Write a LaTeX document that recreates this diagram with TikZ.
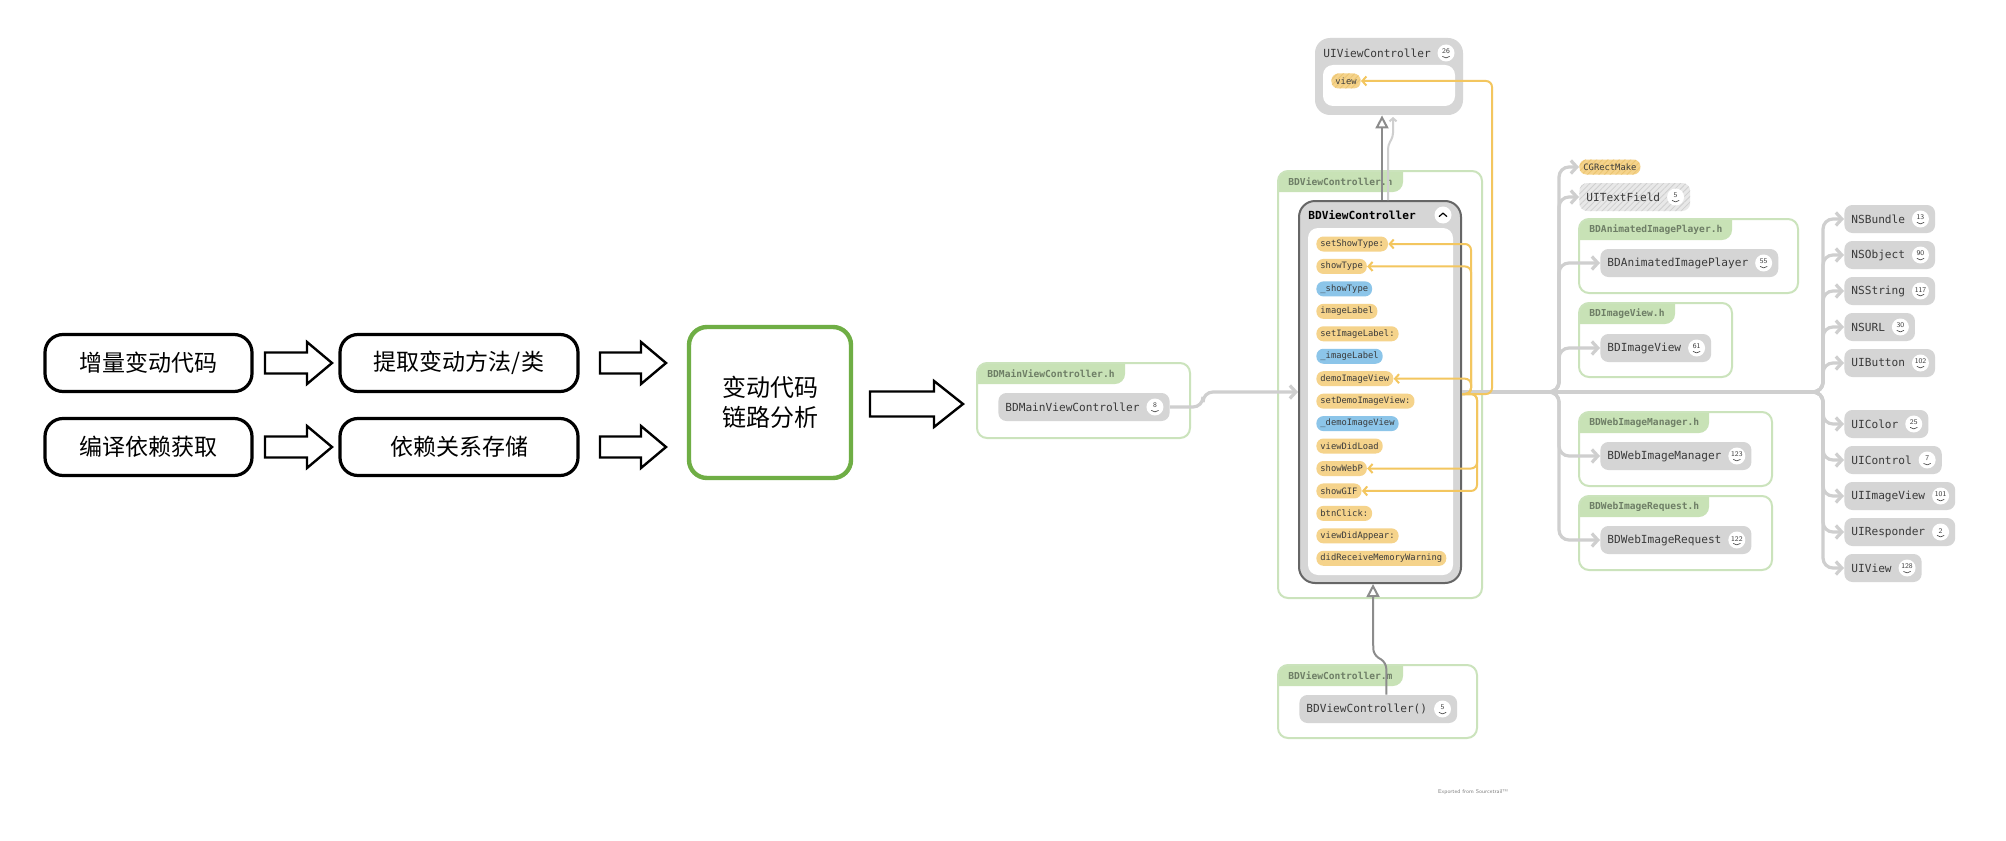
\documentclass[tikz,border=0pt]{standalone}
\usepackage{fontspec}
\newfontfamily\cjk{Noto Sans CJK SC}
\newfontfamily\mono{DejaVu Sans Mono}
\usetikzlibrary{arrows.meta,fit,patterns.meta,calc}
\definecolor{pillgray}{HTML}{D5D5D5}
\definecolor{boxgray}{HTML}{D6D6D6}
\definecolor{txtdark}{HTML}{3A3A3A}
\definecolor{grpline}{HTML}{CBE3BC}
\definecolor{tabgreen}{HTML}{C8E2B6}
\definecolor{tabtext}{HTML}{6E7E66}
\definecolor{memyellow}{HTML}{F5D38B}
\definecolor{memblue}{HTML}{8CC5E9}
\definecolor{hatchyellow}{HTML}{EBC470}
\definecolor{hatchgray}{HTML}{CFCFCF}
\definecolor{lightgray2}{HTML}{E8E8E8}
\definecolor{yline}{HTML}{F3C65F}
\definecolor{gline}{HTML}{CFCFCF}
\definecolor{inhline}{HTML}{8C8C8C}
\definecolor{okgreen}{HTML}{6FAE45}
\definecolor{borderdark}{HTML}{666666}
\tikzset{
 flowbox/.style={draw=black, line width=1.6pt, rounded corners=9pt, fill=white, minimum height=28.5pt, font=\cjk\fontsize{11.5}{14}\selectfont},
 greenbox/.style={draw=okgreen, line width=2.2pt, rounded corners=9pt, minimum width=81pt, minimum height=75.5pt, align=center, font=\cjk\fontsize{12}{15}\selectfont},
 blockarrow/.style={draw=black, line width=1.2pt, fill=white, line join=miter},
 grpframe/.style={draw=grpline, line width=1pt, rounded corners=5pt, inner sep=0pt},
 tablabel/.style={anchor=west, font=\mono\bfseries\fontsize{4.8}{5}\selectfont, text=tabtext, inner sep=0pt},
 cls/.style={anchor=west, fill=pillgray, rounded corners=4pt, minimum height=14pt, inner xsep=3.5pt, inner ysep=0pt, font=\mono\fontsize{5.57}{6}\selectfont, text=txtdark},
 mem/.style={anchor=west, rounded corners=3.5pt, minimum height=7.5pt, inner xsep=2pt, inner ysep=0pt, font=\mono\fontsize{4.4}{5}\selectfont, text=txtdark},
 badgec/.style={circle, fill=white, minimum size=8.5pt, inner sep=0pt},
 gconn/.style={draw=gline, line width=1.6pt, rounded corners=5pt, -{Straight Barb[length=3pt,width=6.5pt]}},
 yconn/.style={draw=yline, line width=1pt, rounded corners=3pt, -{Straight Barb[length=2pt,width=4.5pt]}},
 inh/.style={draw=inhline, line width=1pt, rounded corners=3pt, -{Triangle[open,length=6.5pt,width=6.5pt]}},
 yhatch/.style={fill=memyellow, postaction={pattern={Lines[angle=45,distance=2pt,line width=0.4pt]}, pattern color=hatchyellow}},
 ghatch/.style={fill=lightgray2, postaction={pattern={Lines[angle=45,distance=2pt,line width=0.4pt]}, pattern color=hatchgray}},
}
\newcommand\blockarr[6]{%
 \draw[blockarrow] (#1,{#3-#4}) -- ({#2-#6},{#3-#4}) -- ({#2-#6},{#3-#5}) -- (#2,#3) -- ({#2-#6},{#3+#5}) -- ({#2-#6},{#3+#4}) -- (#1,{#3+#4}) -- cycle;}
\newcommand\grp[7]{%
 \begin{scope}
 \clip[rounded corners=5pt] (#2,#3) rectangle (#4,#5);
 \fill[tabgreen, rounded corners=5pt] ({#2-20},{#3-20}) rectangle (#6,{#3+21});
 \end{scope}
 \node[grpframe, fit={(#2,#3) (#4,#5)}] (#1) {};
 \node[tablabel] (#1-t) at ({#2+10},{#3+10.5}) {#7};
}
\newcommand\badgeat[3]{%
 \node[badgec] (#1) at (#2) {};
 \node[inner sep=0pt, font=\sffamily\fontsize{3.6}{4}\selectfont, text=txtdark] (#1-n) at ([yshift=0.7pt]#1.center) {#3};
 \draw[txtdark, line width=0.3pt] ([shift={(-1.8pt,-1.7pt)}]#1.center) .. controls ([shift={(-0.8pt,-2.7pt)}]#1.center) and ([shift={(0.8pt,-2.7pt)}]#1.center) .. ([shift={(1.8pt,-1.7pt)}]#1.center);
}
\newcommand\clsnode[6][]{%
 \node[cls,#1] (#2) at (#3,#4) {#5\kern11.5pt\relax};
 \badgeat{#2-b}{[xshift=-7.5pt]#2.east}{#6}}
\begin{document}
\begin{tikzpicture}[x=0.5pt,y=-0.5pt]
\useasboundingbox (0,0) rectangle (2006,840);
\fill[white] (0,0) rectangle (2006,840);

% ---------- left flow ----------
\node[flowbox, minimum width=103.5pt] (b1) at (148.5,363) {增量变动代码};
\node[flowbox, minimum width=119pt] (b2) at (459,363) {提取变动方法/类};
\node[flowbox, minimum width=103.5pt] (b3) at (148.5,447) {编译依赖获取};
\node[flowbox, minimum width=119pt] (b4) at (459,447) {依赖关系存储};
\node[greenbox] (ana) at (770,402.5) {变动代码\\链路分析};
\blockarr{265}{332}{363}{10.5}{21}{25}
\blockarr{600}{666}{363}{10.5}{21}{25}
\blockarr{265}{332}{447}{10.5}{21}{25}
\blockarr{600}{666}{447}{10.5}{21}{25}
\blockarr{870}{963}{404}{12.5}{23}{29}

% ---------- groups ----------
\grp{gvch}{1278}{171}{1482}{598}{1403}{BDViewController.h}
\grp{gmain}{977}{363}{1190}{438}{1125}{BDMainViewController.h}
\grp{gvcm}{1278}{665}{1477}{738}{1403}{BDViewController.m}
\grp{gaip}{1579}{219}{1798}{293}{1732}{BDAnimatedImagePlayer.h}
\grp{giv}{1579}{303}{1732}{377}{1675}{BDImageView.h}
\grp{gwim}{1579}{412}{1772}{486}{1709}{BDWebImageManager.h}
\grp{gwir}{1579}{496}{1772}{570}{1709}{BDWebImageRequest.h}

% ---------- UIViewController ----------
\node[fill=boxgray, rounded corners=7.5pt, minimum width=74pt, minimum height=38.5pt, inner sep=0pt] (uivc) at (1389,76.5) {};
\node[anchor=west, font=\mono\fontsize{5.57}{6}\selectfont, text=txtdark, inner sep=0pt] (uivct) at (1323,53) {UIViewController};
\badgeat{uivcb}{1446,53}{26}
\node[fill=white, rounded corners=5pt, minimum width=66pt, minimum height=20.5pt, inner sep=0pt] (uivci) at (1389,85.5) {};
\node[mem, yhatch] (view) at (1331,81) {view};

% ---------- BDViewController ----------
\node[fill=boxgray, draw=borderdark, line width=1pt, rounded corners=8pt, minimum width=81pt, minimum height=191pt, inner sep=0pt] (bdvc) at (1380,392) {};
\node[anchor=west, font=\mono\bfseries\fontsize{5.57}{6}\selectfont, text=black, inner sep=0pt] (bdvct) at (1308,215) {BDViewController};
\node[badgec] (coll) at (1443,215) {};
\draw[black, line width=0.6pt] ([shift={(-2pt,-0.8pt)}]coll.center) -- ([shift={(0pt,0.9pt)}]coll.center) -- ([shift={(2pt,-0.8pt)}]coll.center);
\node[fill=white, rounded corners=5pt, minimum width=72.5pt, minimum height=173.5pt, inner sep=0pt] (bdvci) at (1380.5,401.5) {};
\foreach \i/\t/\c in {1/setShowType:/memyellow, 2/showType/memyellow, 3/\_showType/memblue, 4/imageLabel/memyellow, 5/setImageLabel:/memyellow, 6/\_imageLabel/memblue, 7/demoImageView/memyellow, 8/setDemoImageView:/memyellow, 9/\_demoImageView/memblue, 10/viewDidLoad/memyellow, 11/showWebP/memyellow, 12/showGIF/memyellow, 13/btnClick:/memyellow, 14/viewDidAppear:/memyellow, 15/didReceiveMemoryWarning/memyellow}
 \node[mem, fill=\c] (m\i) at (1316,{244+22.45*(\i-1)}) {\t};

% ---------- class pills ----------
\clsnode{bmvc}{998}{407}{BDMainViewController}{8}
\clsnode{bdvcm}{1299}{709}{BDViewController()}{5}
\node[mem, yhatch] (cgr) at (1579,167) {CGRectMake};
\clsnode[ghatch]{utf}{1579}{197}{UITextField}{5}
\clsnode{bdaip}{1600}{263}{BDAnimatedImagePlayer}{55}
\clsnode{bdiv}{1600}{348}{BDImageView}{61}
\clsnode{bdwim}{1600}{456}{BDWebImageManager}{123}
\clsnode{bdwir}{1600}{540}{BDWebImageRequest}{122}
\clsnode{nsb}{1844}{219}{NSBundle}{13}
\clsnode{nso}{1844}{255}{NSObject}{90}
\clsnode{nss}{1844}{291}{NSString}{117}
\clsnode{nsu}{1844}{327}{NSURL}{30}
\clsnode{uib}{1844}{363}{UIButton}{102}
\clsnode{uic}{1844}{424}{UIColor}{25}
\clsnode{uict}{1844}{460}{UIControl}{7}
\clsnode{uiiv}{1844}{496}{UIImageView}{101}
\clsnode{uir}{1844}{532}{UIResponder}{2}
\clsnode{uiv}{1844}{568}{UIView}{128}

% ---------- connectors ----------
\coordinate (trunkA) at (1559,392);
\coordinate (trunkB) at (1823,392);
\draw[gconn] (bmvc.east) -- (1203,407) -- (1203,392) -- (bdvc.west);
\foreach \t in {cgr,utf,bdaip,bdiv,bdwim,bdwir}
 \draw[gconn] (bdvc.east) -- (trunkA) -- (\t.west -| trunkA) -- (\t.west);
\foreach \t in {nsb,nso,nss,nsu,uib,uic,uict,uiiv,uir,uiv}
 \draw[gconn] (bdvc.east) -- (trunkB) -- (\t.west -| trunkB) -- (\t.west);

\coordinate (ys) at ([yshift=-1pt]bdvc.east);
\coordinate (yA) at (1471,394);
\coordinate (yB) at (1477,394);
\coordinate (yC) at (1492,394);
\foreach \m in {m1,m2,m7}
 \draw[yconn] (ys) -- (yA) -- (\m.east -| yA) -- (\m.east);
\foreach \m in {m11,m12}
 \draw[yconn] (ys) -- (yB) -- (\m.east -| yB) -- (\m.east);
\draw[yconn] (ys) -- (yC) -- (view.east -| yC) -- (view.east);

% inheritance
\draw[draw=gline, line width=1pt, rounded corners=2pt, -{Straight Barb[length=1.5pt,width=3.5pt]}] ([xshift=4pt]bdvc.north) -- ++(0,-55) -- ++(5,-8) -- ++(0,-20);
\draw[inh] ([xshift=1pt]bdvc.north) -- ([xshift=-3.5pt]uivc.south);
\draw[inh] ([xshift=4pt]bdvcm.north) -- ++(0,-32) -- ++(-13,-8) -- ([xshift=-3.5pt]bdvc.south);

\node[font=\sffamily\fontsize{2.8}{3}\selectfont, text=gray, inner sep=0pt] (exp) at (1473,792) {Exported from Sourcetrail\texttrademark};
\end{tikzpicture}
\end{document}
